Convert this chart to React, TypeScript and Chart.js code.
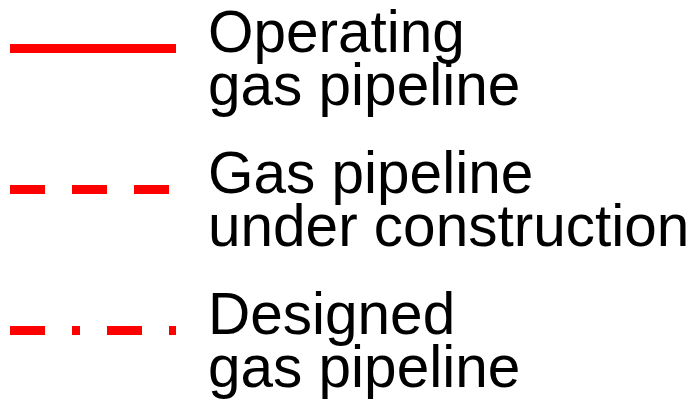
import React, { useEffect, useRef } from "react";
import { Chart, registerables } from "chart.js";

Chart.register(...registerables);

// Legend entries (categories) and their label text, split into lines
const categories = ["Operating gas pipeline", "Gas pipeline under construction", "Designed gas pipeline"];
const labelLines = [
  ["Operating", "gas pipeline"],
  ["Gas pipeline", "under construction"],
  ["Designed", "gas pipeline"],
];
// Row index of each entry and the dash pattern of its sample line
const rowValues = [0, 1, 2];
const dashPatterns = [[], [35, 27], [35, 27, 8, 27]];
// Sample line runs from 0 to 1 in x units
const sampleX = [0, 1];

const lineColor = "#ff0000";
const textColor = "#000000";
const fontFamily = "'Liberation Sans', Arial, Helvetica, sans-serif";

const textPlugin = {
  id: "legendText",
  afterDatasetsDraw(chart: any) {
    const { ctx, scales } = chart;
    const xs = scales.x;
    const ys = scales.y;
    ctx.save();
    ctx.fillStyle = textColor;
    ctx.font = `58.5px ${fontFamily}`;
    ctx.textAlign = "left";
    ctx.textBaseline = "alphabetic";
    const tx = xs.getPixelForValue(sampleX[1]) + 32;
    labelLines.forEach((lines, i) => {
      const cy = ys.getPixelForValue(rowValues[i]);
      lines.forEach((line, j) => {
        ctx.fillText(line, tx, cy + 3.5 + j * 53);
      });
    });
    ctx.restore();
  },
};

export default function App() {
  const ref = useRef<HTMLCanvasElement | null>(null);
  useEffect(() => {
    document.body.style.margin = "0";
    const canvas = ref.current;
    if (!canvas) return;
    const chart = new Chart(canvas, {
      type: "line",
      data: {
        datasets: categories.map((name, i) => ({
          label: name,
          data: sampleX.map((x) => ({ x, y: rowValues[i] })),
          borderColor: lineColor,
          backgroundColor: lineColor,
          borderWidth: 9,
          borderDash: dashPatterns[i],
          borderCapStyle: "butt",
          pointRadius: 0,
          fill: false,
          tension: 0,
        })),
      },
      options: {
        animation: false,
        responsive: false,
        devicePixelRatio: 1,
        layout: { padding: 0 },
        plugins: { legend: { display: false }, tooltip: { enabled: false } },
        scales: {
          x: { type: "linear", display: false, min: -10 / 166, max: 686 / 166 },
          y: { type: "linear", display: false, reverse: true, min: -48.5 / 141, max: -48.5 / 141 + 402 / 141 },
        },
      },
      plugins: [textPlugin],
    } as any);
    return () => chart.destroy();
  }, []);
  return (
    <div style={{ position: "absolute", left: 0, top: 0, width: 696, height: 402, background: "#fff" }}>
      <canvas ref={ref} width={696} height={402} style={{ display: "block" }} />
    </div>
  );
}
